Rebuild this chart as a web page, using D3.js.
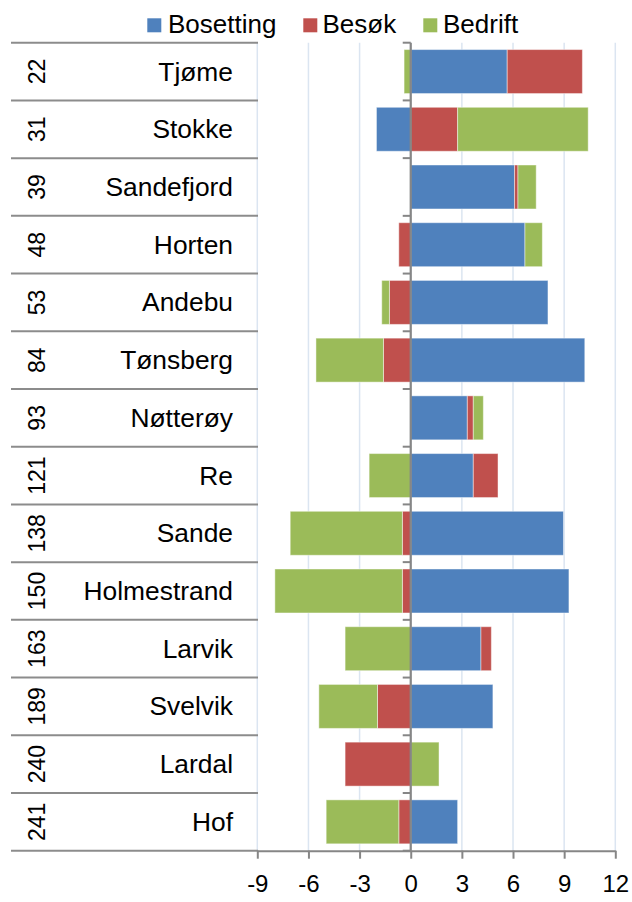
<!DOCTYPE html>
<html>
<head>
<meta charset="utf-8">
<script src="https://cdn.jsdelivr.net/npm/d3@7"></script>
<style>
  html, body { margin: 0; padding: 0; background: #fff; }
  svg { display: block; font-family: "Liberation Sans", Arial, sans-serif; }
</style>
</head>
<body>
<svg id="chart" width="632" height="902"></svg>
<script>
// Municipalities, ranked, with the three attractiveness components
const categories = ["Tjøme", "Stokke", "Sandefjord", "Horten", "Andebu", "Tønsberg", "Nøtterøy",
                    "Re", "Sande", "Holmestrand", "Larvik", "Svelvik", "Lardal", "Hof"];
const ranks = [22, 31, 39, 48, 53, 84, 93, 121, 138, 150, 163, 189, 240, 241];
const bosetting = [5.66, -2.01, 6.09, 6.70, 8.05, 10.21, 3.32, 3.67, 8.96, 9.28, 4.12, 4.82, 0, 2.75];
const besok     = [4.41, 2.75, 0.20, -0.70, -1.25, -1.60, 0.35, 1.45, -0.49, -0.49, 0.61, -1.95, -3.85, -0.70];
const bedrift   = [-0.39, 7.66, 1.07, 1.02, -0.45, -3.96, 0.59, -2.44, -6.58, -7.48, -3.85, -3.44, 1.66, -4.26];
const seriesNames = ["Bosetting", "Besøk", "Bedrift"];
const xTicks = [-9, -6, -3, 0, 3, 6, 9, 12];

const colors = { "Bosetting": "#4F81BD", "Besøk": "#C0504D", "Bedrift": "#9BBB59" };

const rows = categories.map((c, i) => ({
  name: c, rank: ranks[i],
  "Bosetting": bosetting[i], "Besøk": besok[i], "Bedrift": bedrift[i]
}));

const svg = d3.select("#chart");
const plotTop = 42.7, plotBottom = 850.7;

const x = d3.scaleLinear().domain([-9, 12]).range([257.3, 615.3]);
const y = d3.scaleBand().domain(categories).range([plotTop, plotBottom])
  .paddingInner(0.238).paddingOuter(0.119);
const step = y.step();

// vertical gridlines
svg.append("g").selectAll("line").data(xTicks).join("line")
  .attr("x1", d => x(d)).attr("x2", d => x(d))
  .attr("y1", plotTop).attr("y2", plotBottom)
  .attr("stroke", "#dbe5f1").attr("stroke-width", 1.5);

// left table: row separators
const table = svg.append("g");
d3.range(categories.length + 1).forEach(i => {
  const yy = plotTop + i * step;
  table.append("line").attr("x1", 11).attr("x2", 258).attr("y1", yy).attr("y2", yy)
    .attr("stroke", "#8c8c8c").attr("stroke-width", 2);
});

// rank numbers (rotated) and names
table.selectAll("text.rank").data(rows).join("text")
  .attr("class", "rank")
  .attr("transform", d => `translate(37,${y(d.name) + y.bandwidth() / 2}) rotate(-90)`)
  .attr("text-anchor", "middle").attr("dy", "0.36em")
  .attr("font-size", 23).attr("fill", "#000")
  .text(d => d.rank);

table.selectAll("text.name").data(rows).join("text")
  .attr("class", "name")
  .attr("transform", d => `translate(233,${y(d.name) + y.bandwidth() / 2}) scale(1.055,1)`)
  .attr("dy", "0.36em").attr("text-anchor", "end")
  .attr("font-size", 25).attr("fill", "#000")
  .text(d => d.name);

// stacked diverging bars
const stack = d3.stack().keys(seriesNames).offset(d3.stackOffsetDiverging);
const layers = stack(rows);

svg.append("g").selectAll("g").data(layers).join("g")
  .attr("fill", d => colors[d.key])
  .selectAll("rect").data(d => d).join("rect")
  .attr("x", d => x(Math.min(d[0], d[1])))
  .attr("width", d => Math.abs(x(d[1]) - x(d[0])))
  .attr("y", d => y(d.data.name))
  .attr("height", y.bandwidth())
  .attr("stroke", "rgba(255,255,255,0.45)").attr("stroke-width", 1);

// vertical axis at zero with row ticks
const yAxis = svg.append("g").attr("stroke", "#868686");
yAxis.append("line").attr("x1", x(0)).attr("x2", x(0)).attr("y1", plotTop).attr("y2", plotBottom)
  .attr("stroke-width", 2.2);
d3.range(categories.length + 1).forEach(i => {
  const yy = plotTop + i * step;
  yAxis.append("line").attr("x1", x(0) - 8).attr("x2", x(0)).attr("y1", yy).attr("y2", yy)
    .attr("stroke-width", 2);
});

// bottom axis
const xAxis = svg.append("g").attr("transform", `translate(0,${plotBottom})`)
  .call(d3.axisBottom(x).tickValues(xTicks).tickSize(8).tickSizeOuter(0));
xAxis.select(".domain").attr("stroke", "#868686").attr("stroke-width", 2);
xAxis.selectAll(".tick line").attr("stroke", "#868686").attr("stroke-width", 2);
xAxis.selectAll(".tick text")
  .attr("font-family", "Liberation Sans, Arial, sans-serif")
  .attr("font-size", 24).attr("fill", "#000").attr("y", 24).attr("dy", "0.71em")
  .text(d => (d < 0 ? "-" : "") + Math.abs(d));

// legend
const legendItems = [
  { key: "Bosetting", sx: 147.3, tx: 168 },
  { key: "Besøk", sx: 303.3, tx: 322.5 },
  { key: "Bedrift", sx: 423.3, tx: 443 }
];
const legend = svg.append("g");
legend.selectAll("rect").data(legendItems).join("rect")
  .attr("x", d => d.sx).attr("y", 18.3).attr("width", 14).attr("height", 14)
  .attr("fill", d => colors[d.key]);
legend.selectAll("text").data(legendItems).join("text")
  .attr("transform", d => `translate(${d.tx},32.5) scale(1.04,1)`)
  .attr("font-size", 25).attr("fill", "#000")
  .text(d => d.key);
</script>
</body>
</html>
